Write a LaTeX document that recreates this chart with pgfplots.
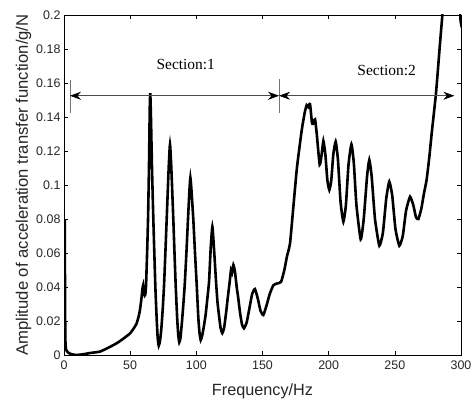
\documentclass[border=0pt]{standalone}
\usepackage{pgfplots}
\pgfplotsset{compat=1.18}
\usepackage{fontspec}
\setmainfont{Liberation Sans}
\newfontfamily\timesf{Liberation Serif}
\usetikzlibrary{arrows.meta,calc}
\begin{document}
\begin{tikzpicture}
\begin{axis}[
  name=ax,
  scale only axis,
  width=397bp, height=340bp,
  xmin=0, xmax=300, ymin=0, ymax=0.2,
  xtick={0,50,...,300},
  ytick={0,0.02,...,0.2},
  scaled y ticks=false,
  yticklabel style={/pgf/number format/fixed,/pgf/number format/precision=2},
  /pgf/number format/assume math mode=true,
  tick align=inside,
  major tick length=4bp,
  tick style={black, line width=0.5bp},
  axis line style={black, line width=0.6bp},
  ticklabel style={font=\fontsize{12.5}{14}\selectfont, color=black!85},
  xticklabel style={yshift=-2bp},
  xlabel={Frequency/Hz},
  ylabel={Amplitude of acceleration transfer function/g/N},
  xlabel style={font=\fontsize{16.3}{18}\selectfont, color=black!85, yshift=-8bp},
  ylabel style={font=\fontsize{16.7}{18}\selectfont, color=black!85, yshift=-2bp},
  clip=true,
]
\addplot[black, line width=2.6bp, smooth, tension=0.3] coordinates {
(0.6,0.0794) (0.8,0.03) (1.2,0.005) (3,0.0015) (6,0.0004) (9.6,0.0) (15,0.0005) (20,0.0012) (27.2,0.002) (34,0.0045) (39.8,0.0069) (45,0.0097) (49.9,0.0127) (53,0.016) (54.9,0.0186) (56.5,0.023) (57.4,0.0265) (58.5,0.033) (59.3,0.039) (59.8,0.041) (60.3,0.037) (61,0.035) (61.5,0.036) (62,0.041) (62.8,0.06) (63.5,0.080) (64.2,0.110) (64.8,0.145) (65.2,0.154) (65.7,0.14) (66.5,0.110) (67.5,0.080) (69,0.041) (70,0.022) (70.8,0.01) (71.6,0.0055)
(72.5,0.008) (73.5,0.015) (74.6,0.027) (75.6,0.041) (76.6,0.06) (77.6,0.080) (79.1,0.110) (80.1,0.124) (81.1,0.110) (82.6,0.080) (83.5,0.06) (84.4,0.041) (85.5,0.022) (86.3,0.012) (87.1,0.0075)
(88,0.01) (89.2,0.02) (90.3,0.031) (91.2,0.041) (92.5,0.06) (93.7,0.080) (94.8,0.097) (95.5,0.1043) (96.3,0.097) (97.7,0.080) (99,0.06) (100.3,0.041) (101.5,0.022) (102.4,0.013) (103.3,0.0088)
(104.3,0.011) (105.5,0.016) (107,0.0235) (108.3,0.033) (109.6,0.043) (110.8,0.062) (112.1,0.0755) (113.4,0.062) (114.9,0.043) (116,0.031) (117.1,0.0235) (118.3,0.016) (119.6,0.0128)
(121,0.016) (122.5,0.025) (123.7,0.0333) (125.2,0.043) (126.2,0.050) (127,0.0485) (128,0.053) (129.2,0.049) (130.5,0.04) (131.7,0.0333) (133,0.025) (134.5,0.018) (136,0.0157)
(138,0.019) (140,0.027) (142.2,0.036) (144.3,0.0388) (146.5,0.033) (148.5,0.026) (150.6,0.0235) (153,0.029) (155.5,0.036) (158.2,0.041) (160.7,0.042) (164,0.043) (166.5,0.050) (168.5,0.058) (170.8,0.0657) (173.3,0.087) (176,0.11) (179.6,0.132) (182,0.143) (183.4,0.147) (184.5,0.146) (185.9,0.1476) (187.3,0.137) (188,0.136) (189.7,0.1386) (191,0.13) (193.2,0.112) (194.7,0.118) (196,0.1259) (197.5,0.118) (199,0.103) (200.5,0.097) (202,0.103) (203.5,0.118) (205.3,0.1255) (207,0.115) (209,0.09) (211.1,0.0784) (213,0.088) (215,0.112) (217.2,0.124) (219,0.113) (221,0.088) (224.2,0.068) (226.5,0.08) (229,0.105) (230.7,0.1147) (232.5,0.105) (235,0.08) (238.3,0.0643) (241,0.072) (243.5,0.092) (245.8,0.102) (248,0.094) (250.5,0.074) (253.4,0.0643) (256,0.07) (258.5,0.085) (261.5,0.0931) (264,0.088) (266,0.081) (267.8,0.080) (270,0.086) (272,0.095) (274,0.103) (276,0.116) (277.8,0.13) (281.1,0.154) (284.1,0.183) (285.9,0.2) (287.5,0.22) (298,0.24) (299.6,0.198) (300,0.196)
};
% annotations
\draw[black!55, line width=0.6bp] (axis cs:4.5,0.1422) -- (axis cs:4.5,0.1618);
\draw[black!55, line width=0.6bp] (axis cs:162.5,0.1425) -- (axis cs:162.5,0.1622);
\draw[black!70, line width=0.7bp, {Stealth[length=11bp,width=8bp,inset=3.5bp,black]}-{Stealth[length=11bp,width=8bp,inset=3.5bp,black]}] (axis cs:4.5,0.1525) -- (axis cs:162.5,0.1525);
\draw[black!70, line width=0.7bp, {Stealth[length=11bp,width=8bp,inset=3.5bp,black]}-{Stealth[length=11bp,width=8bp,inset=3.5bp,black]}] (axis cs:162.5,0.1525) -- (axis cs:295,0.1525);
\node[font=\timesf\fontsize{15.5}{17}\selectfont] at (axis cs:92,0.1706) {Section:1};
\node[font=\timesf\fontsize{15.5}{17}\selectfont] at (axis cs:243.8,0.1676) {Section:2};
\end{axis}
\pgfresetboundingbox
\path ($(ax.south west)+(-64bp,-44bp)$) rectangle ($(ax.north east)+(10bp,15bp)$);
\end{tikzpicture}
\end{document}
